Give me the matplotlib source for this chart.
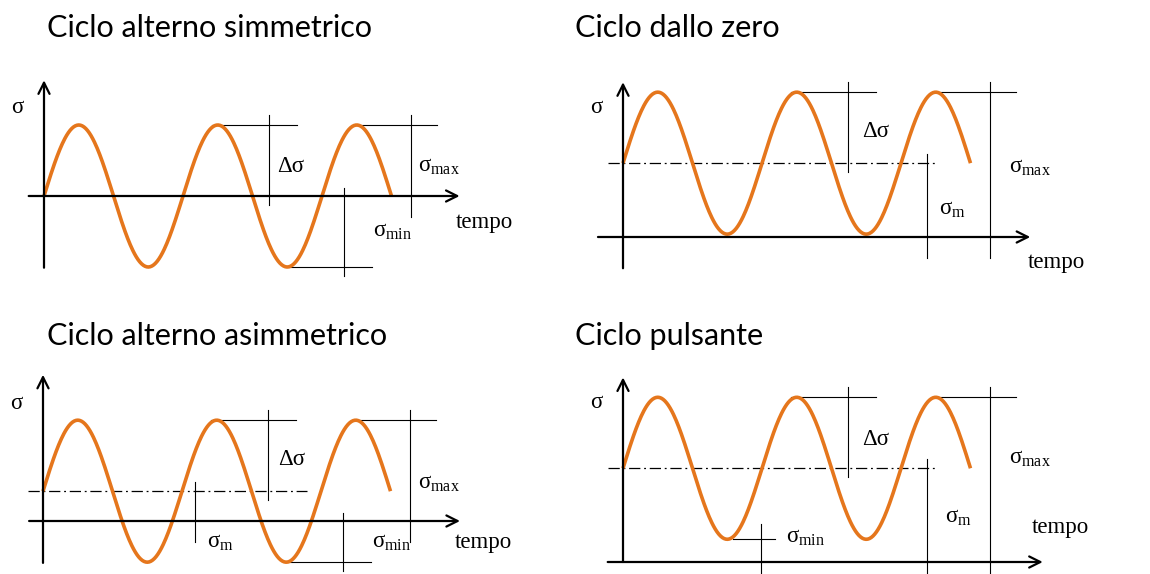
import numpy as np
import matplotlib
matplotlib.use('Agg')
import matplotlib.pyplot as plt

plt.rcParams['mathtext.fontset'] = 'custom'
plt.rcParams['mathtext.rm'] = 'Liberation Serif'
plt.rcParams['mathtext.it'] = 'Liberation Serif:italic'

# panel data: mean stress and amplitude (units of amplitude), time in periods
titles = ['Ciclo alterno simmetrico', 'Ciclo dallo zero',
          'Ciclo alterno asimmetrico', 'Ciclo pulsante']
sigma_m = [0.0, 1.04, 0.42, 1.32]
sigma_a = [1.0, 1.0, 1.0, 1.0]
n_cycles = 2.5

W, H = 1150, 574
SX, SY = 139.0, 71.0          # pixels per period / per unit stress
ORANGE = '#E5761C'
SERIF = 'Liberation Serif'

# pixel layout: origin of each diagram and the region its axes covers
origins = [(44, 196), (623, 237), (43, 521), (623, 562)]
regions = [(0, 40, 575, 300), (575, 40, 1150, 300),
           (0, 350, 575, 574), (575, 350, 1150, 574)]
title_pos = [(47, 37), (575, 37), (47, 345), (575, 345)]

# axis extents (t range of time axis, sigma range of stress axis)
t_axis = [(-0.11, 2.99), (-0.18, 2.93), (-0.10, 3.00), (-0.11, 3.02)]
s_axis = [(-1.01, 1.63), (-0.44, 2.18), (-0.59, 2.06), (0.0, 2.60)]

# label anchors (t, sigma)
lab_sigma = [(-0.19, 1.24), (-0.19, 1.82), (-0.19, 1.66), (-0.19, 2.24)]
lab_delta = [(1.68, 0.34), (1.72, 1.41), (1.69, 0.79), (1.72, 1.65)]
lab_max = [(2.69, 0.34), (2.78, 0.90), (2.70, 0.46), (2.78, 1.39)]
lab_min = [(2.37, -0.58), None, (2.37, -0.37), (1.17, 0.27)]
lab_m = [None, (2.27, 0.32), (1.18, -0.37), (2.32, 0.56)]
lab_tempo = [(2.96, -0.45), (2.91, -0.44), (2.96, -0.38), (2.94, 0.41)]

fig = plt.figure(figsize=(W / 100, H / 100), dpi=100)

for i in range(4):
    ox, oy = origins[i]
    l, t, r, b = regions[i]
    ax = fig.add_axes([l / W, 1 - b / H, (r - l) / W, (b - t) / H])
    ax.set_xlim((l - ox) / SX, (r - ox) / SX)
    ax.set_ylim((oy - b) / SY, (oy - t) / SY)
    ax.axis('off')

    sm, sa = sigma_m[i], sigma_a[i]
    smax, smin = sm + sa, sm - sa

    # axes with open arrow heads
    ax.annotate('', xy=(t_axis[i][1], 0), xytext=(t_axis[i][0], 0),
                arrowprops=dict(arrowstyle='->', lw=1.6, color='black',
                                mutation_scale=20, shrinkA=0, shrinkB=0))
    ax.annotate('', xy=(0, s_axis[i][1]), xytext=(0, s_axis[i][0]),
                arrowprops=dict(arrowstyle='->', lw=1.6, color='black',
                                mutation_scale=20, shrinkA=0, shrinkB=0))

    # mean stress line
    if sm != 0:
        t_end = 1.90 if i == 2 else 2.26
        ax.plot([-0.11, t_end], [sm, sm], color='black', lw=0.9,
                linestyle=(0, (9, 3, 1.5, 3)))

    # dimension lines for delta sigma and sigma max
    ax.plot([1.21, 1.82], [smax, smax], color='black', lw=0.8)
    ax.plot([1.62, 1.62], [smax + 0.14, sm - 0.12], color='black', lw=0.8)
    ax.plot([2.23, 2.83], [smax, smax], color='black', lw=0.8)
    ax.plot([2.64, 2.64], [smax + 0.14, -0.3], color='black', lw=0.8)

    # sigma m marker
    if sm != 0:
        tm = 1.09 if i == 2 else 2.19
        ax.plot([tm, tm], [sm + 0.13, -0.3], color='black', lw=0.8)

    # sigma min marker
    if i in (0, 2):
        ax.plot([1.76, 2.36], [smin, smin], color='black', lw=0.8)
        ax.plot([2.16, 2.16], [0.11, smin - 0.13], color='black', lw=0.8)
    elif i == 3:
        ax.plot([0.79, 1.09], [smin, smin], color='black', lw=0.8)
        ax.plot([0.99, 0.99], [smin + 0.22, -0.3], color='black', lw=0.8)

    # stress history
    tt = np.linspace(0, n_cycles, 400)
    ax.plot(tt, sm + sa * np.sin(2 * np.pi * tt), color=ORANGE, lw=2.6,
            solid_capstyle='butt')

    # labels
    ax.text(*lab_sigma[i], 'σ', family=SERIF, fontsize=16.5,
            ha='center', va='center')
    ax.text(*lab_delta[i], 'Δσ', family=SERIF, fontsize=16.5,
            ha='left', va='baseline')
    ax.text(*lab_max[i], r'$\mathrm{σ_{max}}$', fontsize=16.5,
            ha='left', va='baseline')
    if lab_min[i] is not None:
        ax.text(*lab_min[i], r'$\mathrm{σ_{min}}$', fontsize=16.5,
                ha='left', va='baseline')
    if lab_m[i] is not None:
        ax.text(*lab_m[i], r'$\mathrm{σ_{m}}$', fontsize=16.5,
                ha='left', va='baseline')
    ax.text(*lab_tempo[i], 'tempo', family=SERIF, fontsize=16.5,
            ha='left', va='baseline')

    fig.text(title_pos[i][0] / W, 1 - title_pos[i][1] / H, titles[i],
             family='Lato', fontsize=22, ha='left', va='baseline')

fig.savefig('out.png', dpi=100, facecolor='white')
